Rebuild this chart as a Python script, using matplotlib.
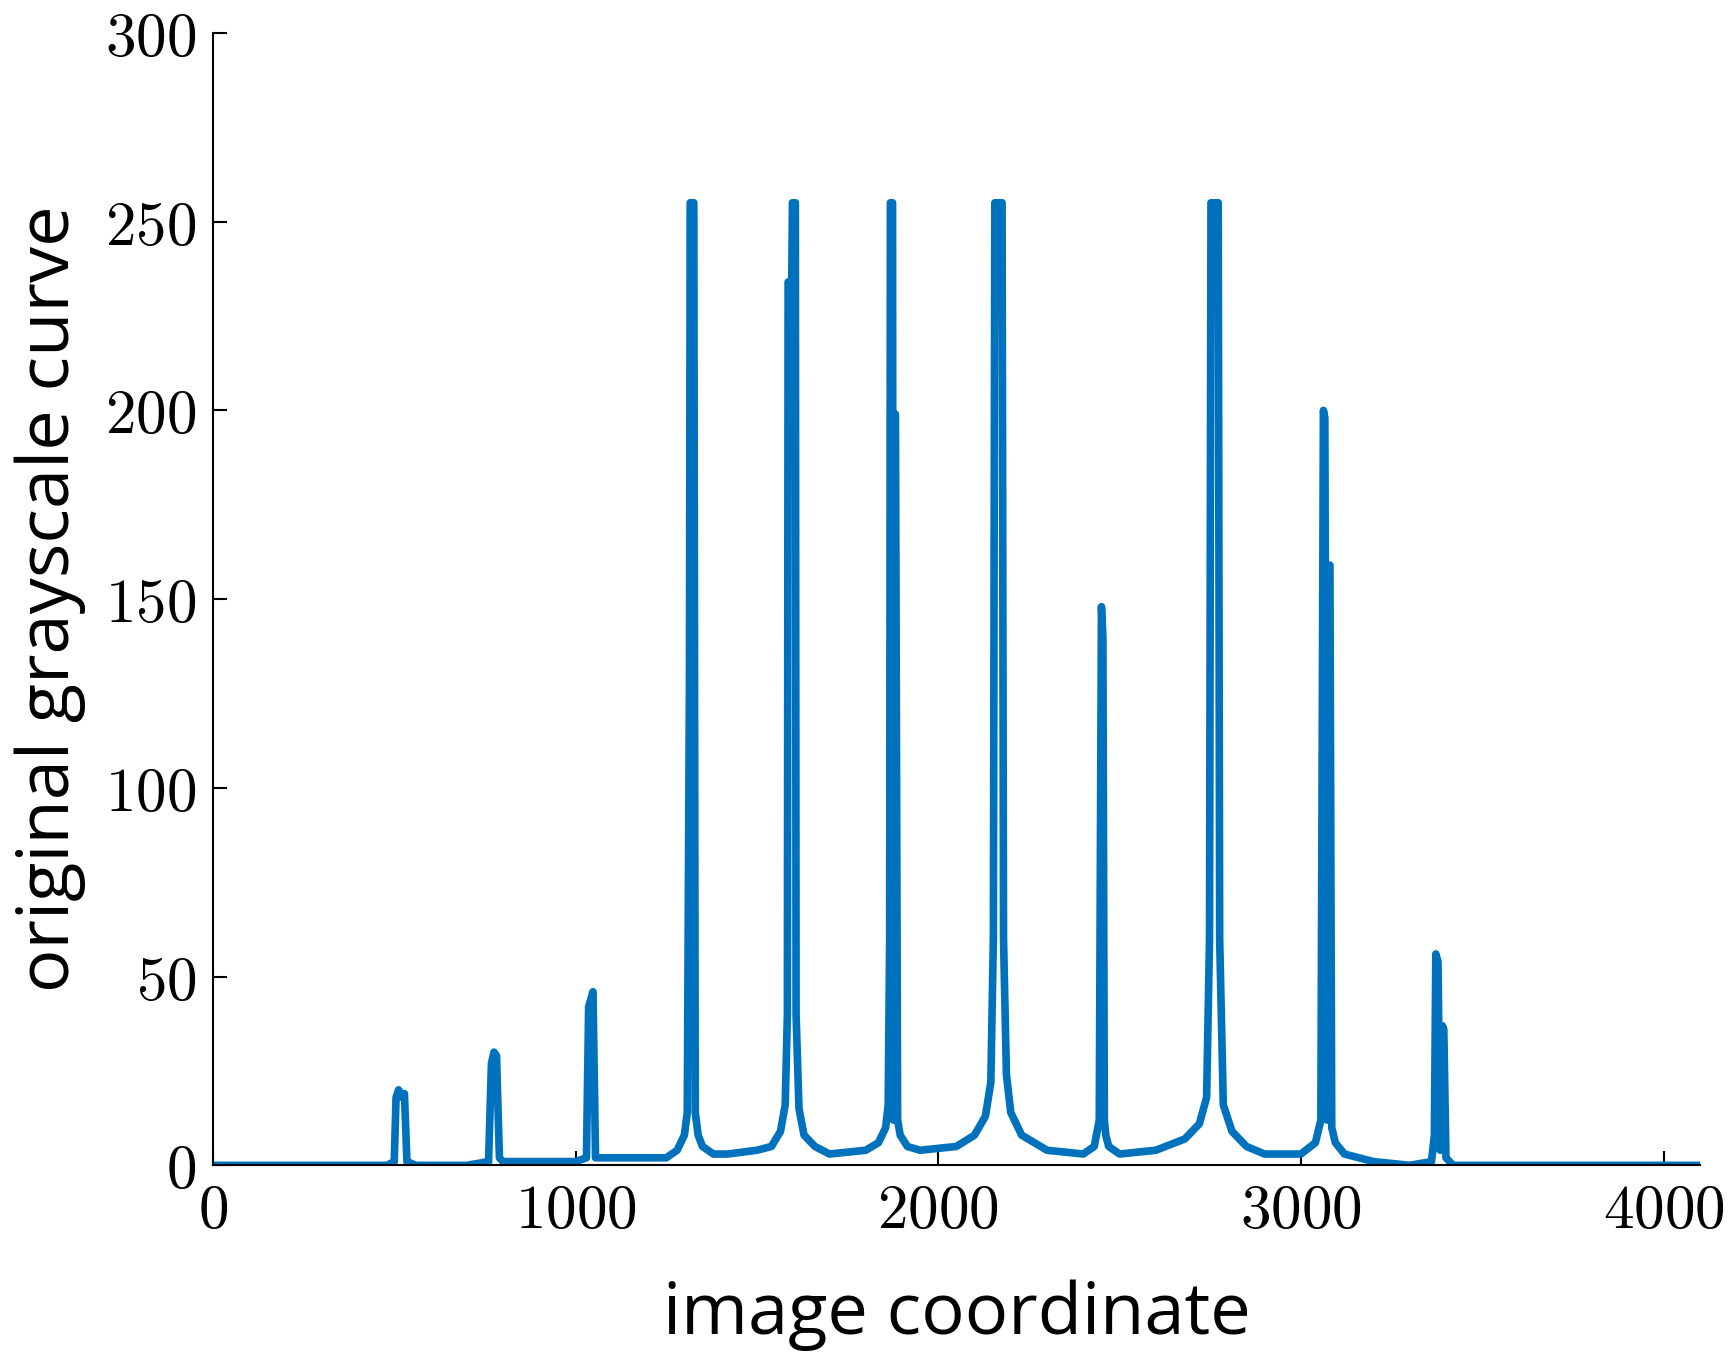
import matplotlib.pyplot as plt

plt.rcParams['mathtext.fontset'] = 'cm'

# key points (image coordinate, grey value)
coord = [0, 150, 300, 480, 500, 505, 512, 518, 522, 528, 535, 560, 700, 760, 768, 775, 782, 790, 800, 900, 1000,
         1030, 1036, 1042, 1048, 1055, 1065, 1150, 1250, 1280, 1300, 1308, 1314, 1316, 1326, 1330, 1338, 1350, 1380, 1420,
         1500, 1540, 1565, 1578, 1584, 1586, 1596, 1598, 1606, 1608, 1616, 1630, 1660, 1700, 1800, 1835, 1855, 1862, 1866, 1868,
         1874, 1876, 1880, 1882, 1888, 1895, 1915, 1950, 2050, 2100, 2130, 2145, 2152, 2156, 2176, 2180, 2188, 2200, 2230, 2300,
         2400, 2430, 2444, 2450, 2454, 2458, 2462, 2470, 2500, 2600, 2680, 2720, 2740, 2748, 2752, 2772, 2776, 2786, 2810, 2850,
         2900, 3000, 3040, 3055, 3062, 3066, 3072, 3076, 3080, 3085, 3095, 3120, 3200, 3300, 3360, 3368, 3372, 3378,
         3384, 3390, 3394, 3400, 3420, 3600, 3800, 4100]
gray = [0, 0, 0, 0, 1, 18, 20, 19, 18, 19, 1, 0, 0, 1, 27, 30, 29, 2, 1, 1, 1,
        2, 42, 44, 46, 2, 2, 2, 2, 4, 8, 14, 130, 255, 255, 14, 8, 5, 3, 3,
        4, 5, 9, 16, 40, 234, 234, 255, 255, 40, 15, 8, 5, 3, 4, 6, 10, 16, 60, 255,
        255, 12, 199, 199, 12, 8, 5, 4, 5, 8, 13, 22, 60, 255, 255, 60, 24, 14, 8, 4,
        3, 5, 12, 148, 140, 12, 8, 5, 3, 4, 7, 11, 18, 60, 255, 255, 60, 16, 9, 5,
        3, 3, 6, 12, 200, 198, 12, 159, 159, 10, 6, 3, 1, 0, 1, 8, 56, 54,
        4, 37, 36, 2, 0, 0, 0, 0]

fig = plt.figure(figsize=(17.31, 13.71), dpi=100)
ax = fig.add_axes([0.123, 0.150, 0.859, 0.826])
ax.plot(coord, gray, color='#0072BD', linewidth=5.5)

ax.set_xlim(0, 4100)
ax.set_ylim(0, 300)
xt = [0, 1000, 2000, 3000, 4000]
yt = [0, 50, 100, 150, 200, 250, 300]
ax.set_xticks(xt)
ax.set_xticklabels([f'${v}$' for v in xt])
ax.set_yticks(yt)
ax.set_yticklabels([f'${v}$' for v in yt])
ax.tick_params(direction='in', length=10, width=1.5, labelsize=44, pad=12)
for s in ['top', 'right']:
    ax.spines[s].set_visible(False)
for s in ['left', 'bottom']:
    ax.spines[s].set_linewidth(1.5)

ax.set_xlabel('image coordinate', fontsize=52, fontfamily='Open Sans', labelpad=28)
ax.set_ylabel('original grayscale curve', fontsize=52, fontfamily='Open Sans', labelpad=14)

fig.savefig('out.png', dpi=100)
